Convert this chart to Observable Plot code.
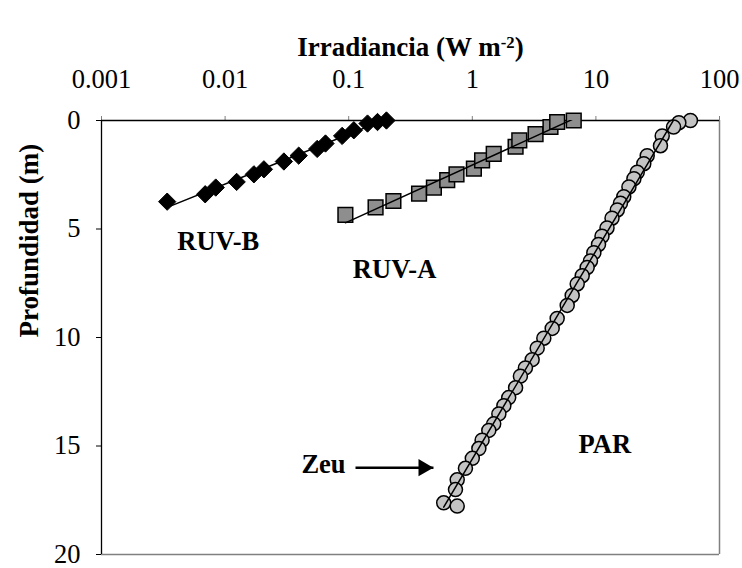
<!DOCTYPE html>
<html>
<head>
<meta charset="utf-8">
<script src="https://cdn.jsdelivr.net/npm/d3@7"></script>
<script src="https://cdn.jsdelivr.net/npm/@observablehq/plot@0.6"></script>
<style>
  html, body { margin: 0; padding: 0; background: #fff; }
</style>
</head>
<body>
<div id="chart"></div>
<script>
// Irradiance profiles (W m-2) against depth (m)
const ruvbIrr   = [0.0034, 0.0069, 0.0084, 0.0124, 0.0171, 0.0206, 0.0299, 0.0394, 0.0556, 0.0649, 0.0885, 0.110, 0.142, 0.171, 0.202];
const ruvbDepth = [3.74, 3.40, 3.09, 2.83, 2.48, 2.25, 1.89, 1.62, 1.31, 1.06, 0.71, 0.45, 0.14, 0.07, 0.0];

const ruvaIrr   = [0.094, 0.165, 0.230, 0.371, 0.489, 0.627, 0.745, 1.03, 1.20, 1.49, 2.24, 2.40, 3.25, 4.29, 4.86, 6.62];
const ruvaDepth = [4.35, 4.00, 3.71, 3.37, 3.09, 2.75, 2.48, 2.22, 1.84, 1.54, 1.21, 0.92, 0.63, 0.30, 0.07, 0.0];

const parIrr   = [58.2, 46.9, 42.5, 34.4, 33.3, 26.0, 24.4, 21.6, 20.3, 18.5, 16.8, 15.8, 14.9, 13.5, 12.3, 11.2, 10.5, 9.62, 9.04, 8.50, 7.75, 7.06, 6.43, 5.86, 4.86, 4.43, 3.79, 3.35, 3.05, 2.69, 2.45, 2.24, 1.97, 1.80, 1.64, 1.49, 1.36, 1.20, 1.13, 1.00, 0.88, 0.755, 0.731, 0.587, 0.755];
const parDepth = [0.0, 0.10, 0.30, 0.71, 1.16, 1.62, 1.99, 2.38, 2.68, 3.06, 3.51, 3.81, 4.12, 4.50, 4.95, 5.33, 5.71, 6.09, 6.47, 6.77, 7.15, 7.53, 8.06, 8.52, 9.12, 9.58, 10.03, 10.49, 11.02, 11.40, 11.78, 12.31, 12.77, 13.14, 13.52, 13.98, 14.28, 14.73, 15.12, 15.57, 16.03, 16.56, 17.01, 17.62, 17.77];

// Axis ticks
const xTicks = [0.001, 0.01, 0.1, 1, 10, 100];
const xTickLabels = ["0.001", "0.01", "0.1", "1", "10", "100"];
const yTicks = [0, 5, 10, 15, 20];

// Series labels and the euphotic depth marker
const seriesLabels = [
  {text: "RUV-B", irr: 0.0088, depth: 5.56},
  {text: "RUV-A", irr: 0.235, depth: 6.89},
  {text: "PAR",   irr: 11.8,  depth: 14.93}
];
const zeuLabel = {text: "Zeu", irr: 0.0625, depth: 15.85};
const zeuArrow = {from: 0.1135, to: 0.485, depth: 16.0};

const toRows = (irr, depth) => irr.map((x, i) => ({x, y: depth[i]}));
const ruvb = toRows(ruvbIrr, ruvbDepth);
const ruva = toRows(ruvaIrr, ruvaDepth);
const par  = toRows(parIrr, parDepth);

// Logarithmic trend line: depth = a * log10(irradiance) + b, spanning the data range
function logTrend(irr, depth) {
  const lx = irr.map(Math.log10);
  const mx = d3.mean(lx), my = d3.mean(depth);
  const a = d3.sum(lx, (v, i) => (v - mx) * (depth[i] - my)) / d3.sum(lx, v => (v - mx) ** 2);
  const b = my - a * mx;
  return d3.extent(irr).map(x => ({x, y: a * Math.log10(x) + b}));
}

const chart = Plot.plot({
  width: 742,
  height: 568,
  marginLeft: 101,
  marginRight: 23,
  marginTop: 120,
  marginBottom: 14,
  style: {fontFamily: "'Liberation Serif', 'Times New Roman', serif", fontSize: "26.5px", background: "#fff", color: "#000"},
  x: {type: "log", domain: [0.001, 100]},
  y: {domain: [0, 20], reverse: true},
  marks: [
    // plot-area border on the right and bottom
    Plot.ruleX([100], {stroke: "#808080", strokeWidth: 1.5}),
    Plot.ruleY([20], {stroke: "#808080", strokeWidth: 1.5}),
    // axes
    Plot.axisX({anchor: "top", ticks: xTicks, tickFormat: d => xTickLabels[xTicks.indexOf(d)], tickSize: 5, tickPadding: 28, stroke: "#808080", fill: "#000", label: null}),
    Plot.axisY({anchor: "left", ticks: yTicks, tickSize: 5, tickPadding: 16, label: null}),
    Plot.ruleX([0.001], {stroke: "#000", strokeWidth: 1.3}),
    Plot.ruleY([0], {stroke: "#000", strokeWidth: 1.3}),
    // axis titles
    Plot.text(["Irradiancia (W m-2)"], {frameAnchor: "top", dy: -84, fontWeight: "bold", fontSize: 27}),
    Plot.text(["Profundidad (m)"], {frameAnchor: "left", dx: -72, rotate: -90, fontWeight: "bold", fontSize: 27}),
    // profiles
    Plot.dot(par,  {x: "x", y: "y", r: 7, fill: "#c4c4c4", stroke: "#000", strokeWidth: 1.5}),
    Plot.dot(ruva, {x: "x", y: "y", symbol: "square", r: 8.3, fill: "#8e8e8e", stroke: "#000", strokeWidth: 1.5}),
    Plot.dot(ruvb, {x: "x", y: "y", symbol: "diamond2", r: 7.8, fill: "#000", stroke: "#000", strokeWidth: 1}),
    // trend lines
    Plot.line(logTrend(parIrr, parDepth),   {x: "x", y: "y", stroke: "#000", strokeWidth: 1.5, clip: true}),
    Plot.line(logTrend(ruvaIrr, ruvaDepth), {x: "x", y: "y", stroke: "#000", strokeWidth: 1.5, clip: true}),
    Plot.line(logTrend(ruvbIrr, ruvbDepth), {x: "x", y: "y", stroke: "#000", strokeWidth: 1.5, clip: true}),
    // series labels
    Plot.text(seriesLabels, {x: "irr", y: "depth", text: "text", fontWeight: "bold", fontSize: 26.5}),
    Plot.text([zeuLabel], {x: "irr", y: "depth", text: "text", fontWeight: "bold", fontSize: 26.5}),
    // euphotic depth arrow
    Plot.link([zeuArrow], {x1: "from", x2: "to", y1: "depth", y2: "depth", stroke: "#000", strokeWidth: 2.6}),
    Plot.dot([zeuArrow], {x: "to", y: "depth", symbol: "triangle", r: 6.4, rotate: 90, dx: -10, fill: "#000", stroke: "none"})
  ]
});

// superscript exponent in the x-axis title
d3.select(chart).selectAll("text").each(function () {
  if (this.textContent === "Irradiancia (W m-2)") {
    const t = d3.select(this);
    t.text(null);
    t.append("tspan").text("Irradiancia (W m");
    t.append("tspan").attr("dy", "-0.45em").attr("font-size", "0.62em").text("-2");
    t.append("tspan").attr("dy", "0.28em").text(")");
  }
});

document.getElementById("chart").appendChild(chart);
</script>
</body>
</html>
